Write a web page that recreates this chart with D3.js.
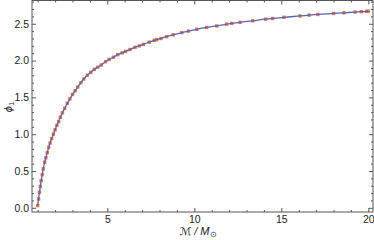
<!DOCTYPE html>
<html lang="en">
<head>
<meta charset="utf-8">
<script src="https://d3js.org/d3.v7.min.js"></script>
<style>
  body { margin: 0; background: #fff; }
  svg { display: block; }
  text { font-family: "Liberation Sans", Arial, sans-serif; fill: #222; }
</style>
</head>
<body>
<svg width="374" height="240"></svg>
<script>
// chirp mass (in solar masses) and phi_1
const chirpMass = [1.0, 1.05, 1.1, 1.15, 1.2, 1.26, 1.32, 1.4, 1.47, 1.55, 1.63, 1.71, 1.8, 1.9,
  2.0, 2.1, 2.2, 2.3, 2.42, 2.55, 2.7, 2.85, 3.0, 3.15, 3.3, 3.48, 3.65, 3.85, 4.05, 4.25,
  4.45, 4.65, 4.9, 5.1, 5.35, 5.6, 5.85, 6.05, 6.3, 6.59, 6.84, 7.07, 7.41, 7.7, 7.84, 8.09,
  8.41, 8.79, 9.28, 9.66, 10.14, 10.71, 11.29, 11.86, 12.15, 12.63, 13.36, 14.1, 14.5,
  15.15, 16.07, 16.6, 17.1, 18.0, 18.6, 19.24, 19.6, 19.9, 20.0];
const phi1 = [0.03, 0.12, 0.21, 0.29, 0.37, 0.45, 0.53, 0.62, 0.68, 0.75, 0.82, 0.88, 0.94, 1.0,
  1.06, 1.12, 1.17, 1.23, 1.29, 1.35, 1.42, 1.48, 1.54, 1.59, 1.64, 1.7, 1.75, 1.8, 1.84, 1.88,
  1.91, 1.94, 1.985, 2.015, 2.045, 2.08, 2.105, 2.125, 2.15, 2.18, 2.2, 2.22, 2.25, 2.275, 2.285, 2.3,
  2.325, 2.35, 2.38, 2.4, 2.425, 2.45, 2.47, 2.495, 2.505, 2.52, 2.54, 2.562, 2.572,
  2.588, 2.606, 2.617, 2.627, 2.64, 2.649, 2.659, 2.664, 2.669, 2.67];

const xTicks = [5, 10, 15, 20];
const yTicks = [0.0, 0.5, 1.0, 1.5, 2.0, 2.5];

const points = chirpMass.map((m, i) => ({ m: m, phi: phi1[i] }));

const plotLeft = 32, plotRight = 373, plotTop = 0.5, plotBottom = 212;

const svg = d3.select('svg');

const x = d3.scaleLinear().domain([0.672, 20.27]).range([plotLeft, plotRight]);
const y = d3.scaleLinear().domain([-0.057, 2.816]).range([plotBottom, plotTop]);

const xMinor = d3.range(1, 21).filter(v => v % 5 !== 0);
const yMinor = d3.range(0, 29).map(v => v / 10).filter(v => Math.round(v * 10) % 5 !== 0);

const frameColor = '#555';

// frame box
svg.append('rect')
  .attr('x', plotLeft).attr('y', plotTop)
  .attr('width', plotRight - plotLeft).attr('height', plotBottom - plotTop)
  .attr('fill', 'none').attr('stroke', frameColor).attr('stroke-width', 1);

function styleAxis(g) {
  g.select('.domain').remove();
  g.selectAll('line').attr('stroke', frameColor);
  g.selectAll('text').attr('font-size', 10.5).attr('fill', '#222')
    .style('font-family', '"Liberation Sans", Arial, sans-serif');
}

// bottom
svg.append('g').attr('transform', `translate(0,${plotBottom})`)
  .call(d3.axisBottom(x).tickValues(xTicks).tickSize(-4).tickPadding(4).tickFormat(d3.format('d')))
  .call(styleAxis);
svg.append('g').attr('transform', `translate(0,${plotBottom})`)
  .call(d3.axisBottom(x).tickValues(xMinor).tickSize(-2).tickFormat(''))
  .call(styleAxis);
// top
svg.append('g').attr('transform', `translate(0,${plotTop})`)
  .call(d3.axisTop(x).tickValues(xTicks).tickSize(-4).tickFormat(''))
  .call(styleAxis);
svg.append('g').attr('transform', `translate(0,${plotTop})`)
  .call(d3.axisTop(x).tickValues(xMinor).tickSize(-2).tickFormat(''))
  .call(styleAxis);
// left
svg.append('g').attr('transform', `translate(${plotLeft},0)`)
  .call(d3.axisLeft(y).tickValues(yTicks).tickSize(-4).tickPadding(3).tickFormat(d3.format('.1f')))
  .call(styleAxis);
svg.append('g').attr('transform', `translate(${plotLeft},0)`)
  .call(d3.axisLeft(y).tickValues(yMinor).tickSize(-2).tickFormat(''))
  .call(styleAxis);
// right
svg.append('g').attr('transform', `translate(${plotRight},0)`)
  .call(d3.axisRight(y).tickValues(yTicks).tickSize(-4).tickFormat(''))
  .call(styleAxis);
svg.append('g').attr('transform', `translate(${plotRight},0)`)
  .call(d3.axisRight(y).tickValues(yMinor).tickSize(-2).tickFormat(''))
  .call(styleAxis);

// orange markers
svg.append('g').selectAll('rect')
  .data(points)
  .enter()
  .append('rect')
  .attr('x', d => x(d.m) - 1.7)
  .attr('y', d => y(d.phi) - 1.7)
  .attr('width', 3.4)
  .attr('height', 3.4)
  .attr('fill', '#e0612c')
  .attr('fill-opacity', 0.85);

// blue curve
const line = d3.line()
  .x(d => x(d.m))
  .y(d => y(d.phi))
  .curve(d3.curveMonotoneX);

svg.append('path')
  .datum(points)
  .attr('d', line)
  .attr('fill', 'none')
  .attr('stroke', '#5c62b8')
  .attr('stroke-width', 1.3);

// axis labels
svg.append('text')
  .attr('x', 198)
  .attr('y', 235)
  .attr('text-anchor', 'middle')
  .attr('font-size', 11)
  .html('<tspan font-family="DejaVu Sans" font-style="italic">ℳ</tspan><tspan font-style="italic"> / M</tspan><tspan font-size="7.5" dy="1.5">⊙</tspan>');

svg.append('text')
  .attr('transform', 'translate(12,107) rotate(-90)')
  .attr('text-anchor', 'middle')
  .attr('font-size', 11)
  .html('<tspan font-style="italic">ϕ</tspan><tspan font-size="7.5" dy="2">1</tspan>');
</script>
</body>
</html>
